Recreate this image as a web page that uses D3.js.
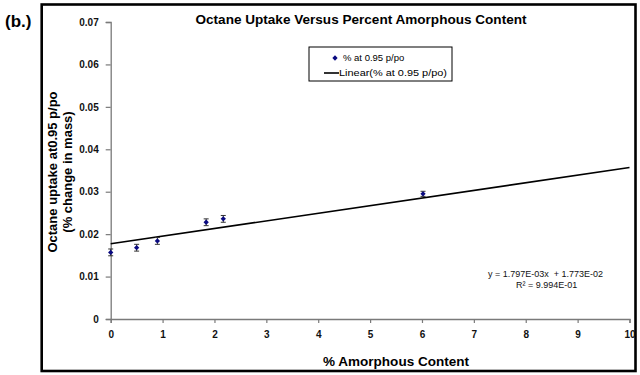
<!DOCTYPE html>
<html>
<head>
<meta charset="utf-8">
<script src="https://cdn.jsdelivr.net/npm/d3@7"></script>
<style>
  body { margin: 0; background: #fff; }
  svg { display: block; font-family: Arial, "Liberation Sans", sans-serif; }
</style>
</head>
<body>
<svg id="chart" width="640" height="375"></svg>
<script>
// data
const amorphous = [0, 0.5, 0.9, 1.84, 2.17, 6.02];
const uptake = [0.0157, 0.0168, 0.0184, 0.0228, 0.0236, 0.0295];
const uptakeErr = [0.0008, 0.0008, 0.0008, 0.0008, 0.0008, 0.0006];
const slope = 1.797e-3;
const intercept = 1.773e-2;
const xTicks = [0, 1, 2, 3, 4, 5, 6, 7, 8, 9, 10];
const yTicks = [0, 0.01, 0.02, 0.03, 0.04, 0.05, 0.06, 0.07];

const svg = d3.select('#chart');

const x = d3.scaleLinear().domain([0, 10]).range([110.7, 629.5]);
const y = d3.scaleLinear().domain([0, 0.07]).range([319, 22]);

// outer frame
svg.append('rect')
  .attr('x', 41.7).attr('y', 4.5)
  .attr('width', 593.8).attr('height', 366.5)
  .attr('fill', 'none')
  .attr('stroke', '#000')
  .attr('stroke-width', 2.6);

svg.append('text')
  .attr('x', 5).attr('y', 27)
  .style('font-size', '17px')
  .style('font-weight', 'bold')
  .text('(b.)');

// axes
const yAxis = svg.append('g')
  .attr('transform', `translate(${x(0)},0)`)
  .call(d3.axisLeft(y).tickValues(yTicks).tickSize(5).tickPadding(7)
    .tickFormat(d => d === 0 ? '0' : d3.format('.2f')(d)));

const xAxis = svg.append('g')
  .attr('transform', `translate(0,${y(0)})`)
  .call(d3.axisBottom(x).tickValues(xTicks).tickSize(4).tickPadding(8));

[yAxis, xAxis].forEach(ax => {
  ax.select('.domain').attr('stroke', '#7a7a7a').attr('stroke-width', 1.3);
  ax.selectAll('.tick line').attr('stroke', '#7a7a7a').attr('stroke-width', 1.2);
  ax.selectAll('.tick text')
    .attr('fill', '#111')
    .style('font-size', '10px')
    .style('font-weight', 'bold')
    .style('font-family', 'Arial, "Liberation Sans", sans-serif');
});

// trend line
const line = d3.line().x(d => x(d)).y(d => y(slope * d + intercept));
svg.append('path')
  .attr('d', line([0, 10]))
  .attr('fill', 'none')
  .attr('stroke', '#000')
  .attr('stroke-width', 1.6);

// error bars
const pts = amorphous.map((a, i) => ({ a: a, u: uptake[i], e: uptakeErr[i] }));
const bars = svg.append('g').selectAll('g').data(pts).join('g');
bars.append('line')
  .attr('x1', d => x(d.a)).attr('x2', d => x(d.a))
  .attr('y1', d => y(d.u - d.e)).attr('y2', d => y(d.u + d.e))
  .attr('stroke', '#333').attr('stroke-width', 1);
[-1, 1].forEach(s => {
  bars.append('line')
    .attr('x1', d => x(d.a) - 2.5).attr('x2', d => x(d.a) + 2.5)
    .attr('y1', d => y(d.u + s * d.e)).attr('y2', d => y(d.u + s * d.e))
    .attr('stroke', '#333').attr('stroke-width', 1);
});

// markers
const diamond = d3.symbol().type(d3.symbolSquare).size(14);
svg.append('g').selectAll('path').data(pts).join('path')
  .attr('d', diamond)
  .attr('transform', d => `translate(${x(d.a)},${y(d.u)}) rotate(45)`)
  .attr('fill', '#0a0a80');

// titles
svg.append('text')
  .attr('x', 361).attr('y', 24)
  .attr('text-anchor', 'middle')
  .style('font-size', '13px')
  .style('font-weight', 'bold')
  .attr('textLength', 331)
  .attr('lengthAdjust', 'spacingAndGlyphs')
  .text('Octane Uptake Versus Percent Amorphous Content');

svg.append('text')
  .attr('x', 396).attr('y', 366)
  .attr('text-anchor', 'middle')
  .style('font-size', '13px')
  .style('font-weight', 'bold')
  .attr('textLength', 146)
  .attr('lengthAdjust', 'spacingAndGlyphs')
  .text('% Amorphous Content');

const yLab = svg.append('text')
  .attr('transform', 'translate(0,172) rotate(-90)')
  .attr('text-anchor', 'middle')
  .style('font-size', '13px')
  .style('font-weight', 'bold');
yLab.append('tspan').attr('x', 0).attr('y', 57).text('Octane uptake at0.95 p/po');
yLab.append('tspan').attr('x', 0).attr('y', 72).text('(% change in mass)');

// legend
const leg = svg.append('g');
leg.append('rect')
  .attr('x', 309).attr('y', 47)
  .attr('width', 143).attr('height', 34)
  .attr('fill', '#fff')
  .attr('stroke', '#000')
  .attr('stroke-width', 1);
leg.append('path')
  .attr('d', diamond)
  .attr('transform', 'translate(335,58) rotate(45)')
  .attr('fill', '#0a0a80');
leg.append('line')
  .attr('x1', 324).attr('x2', 339)
  .attr('y1', 73).attr('y2', 73)
  .attr('stroke', '#000').attr('stroke-width', 1.6);
leg.append('text')
  .attr('x', 343).attr('y', 61)
  .style('font-size', '9.5px')
  .text('% at 0.95 p/po');
leg.append('text')
  .attr('x', 339).attr('y', 76)
  .style('font-size', '9.5px')
  .attr('textLength', 108)
  .attr('lengthAdjust', 'spacingAndGlyphs')
  .text('Linear(% at 0.95 p/po)');

// regression note
const eq = svg.append('text')
  .style('font-size', '9px')
  .style('white-space', 'pre')
  .attr('fill', '#111');
eq.append('tspan').attr('x', 488).attr('y', 277).text('y = 1.797E-03x  + 1.773E-02');
eq.append('tspan').attr('x', 516).attr('y', 288).text('R² = 9.994E-01');
</script>
</body>
</html>
